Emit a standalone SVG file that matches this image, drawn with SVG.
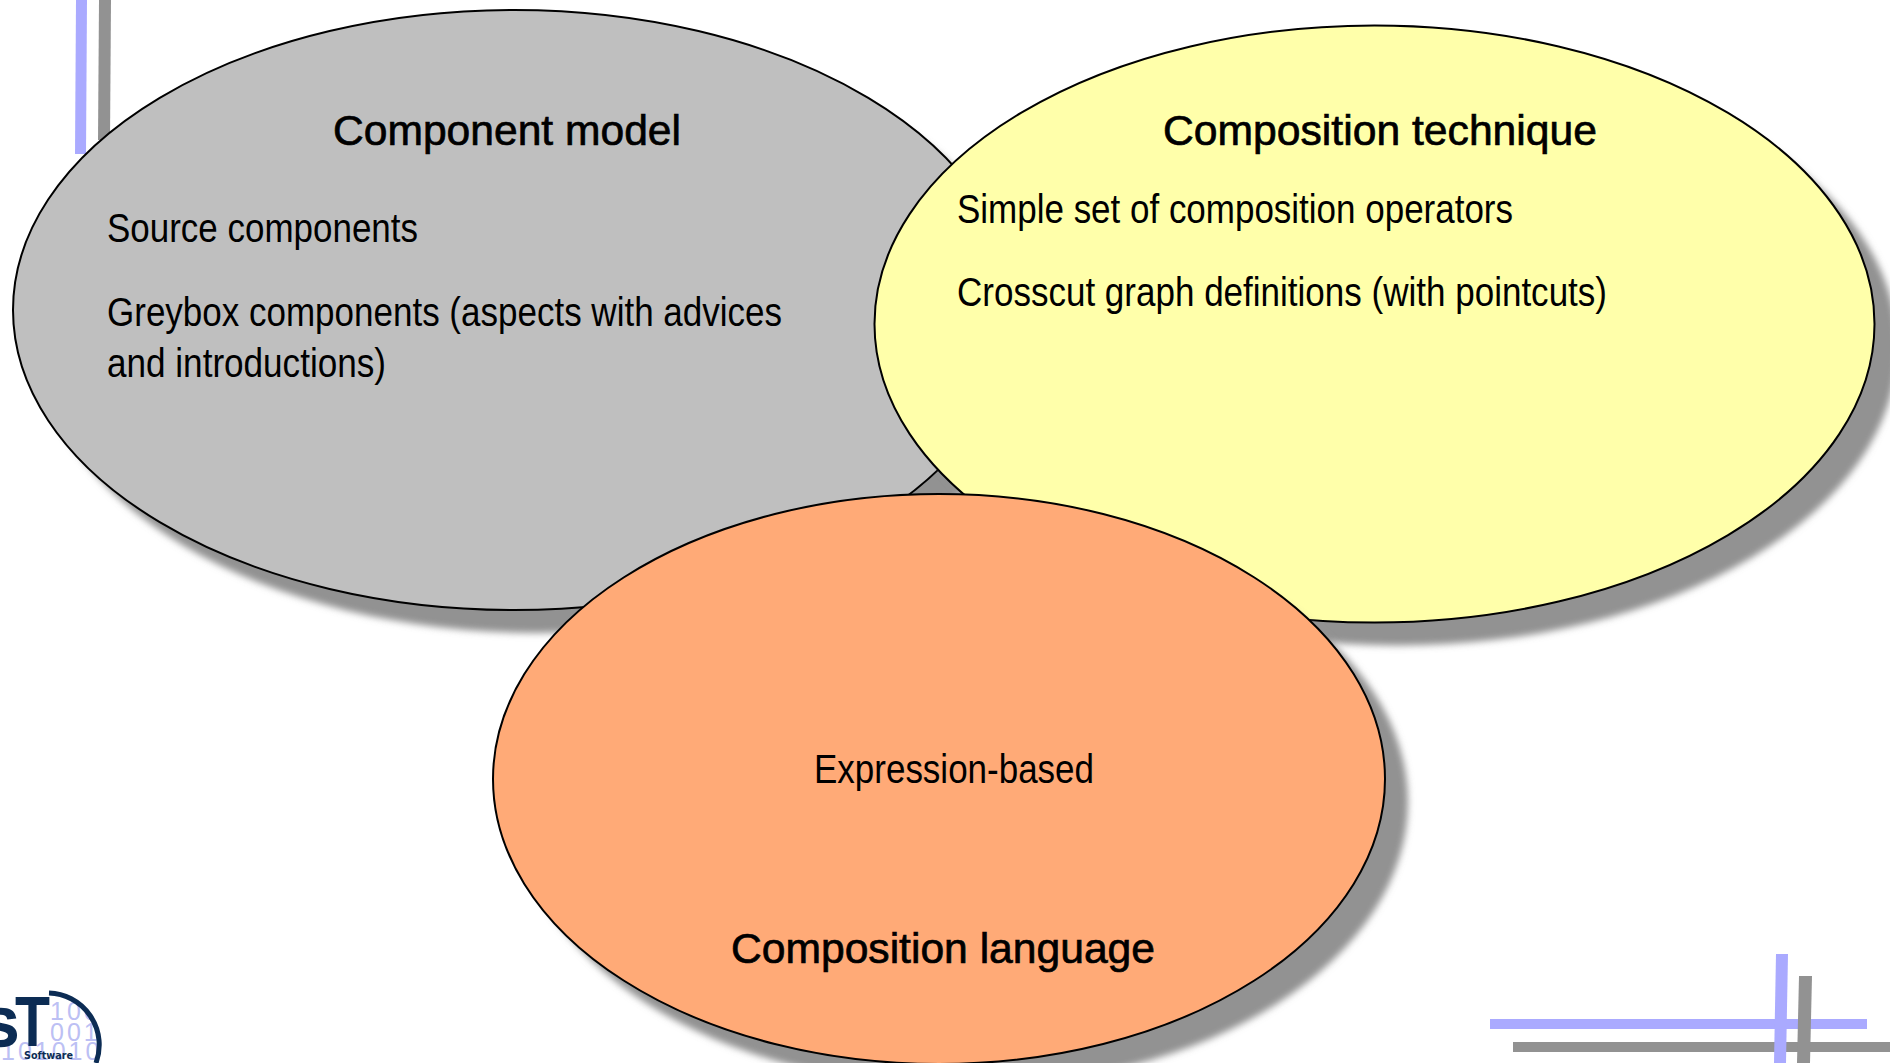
<svg xmlns="http://www.w3.org/2000/svg" width="1890" height="1063" viewBox="0 0 1890 1063">
<style>
.t{font-family:"Liberation Sans",Arial,sans-serif;font-size:41px;fill:#000}
.h{font-family:"Liberation Sans",Arial,sans-serif;font-size:43px;fill:#000;stroke:#000;stroke-width:.7px}
.e{stroke:#000;stroke-width:2}
.s{fill:#929292;filter:url(#b)}
.d{font-family:"Liberation Sans",Arial,sans-serif;font-size:25px;fill:#bcc0f4;letter-spacing:3px}
.n{fill:#0c2c54}
</style>
<defs>
<filter id="b" x="-5%" y="-5%" width="110%" height="110%"><feGaussianBlur stdDeviation="3.500"/></filter>
<clipPath id="c"><circle cx="49" cy="1045" r="50"/></clipPath>
</defs>
<rect width="1890" height="1063" fill="#fff"/>
<g id="deco">
<polygon points="76,0 87,0 86,154 75,154" fill="#aaf"/>
<polygon points="99,0 111,0 110,140 98,140" fill="#929292"/>
<rect x="1490" y="1019" width="377" height="10" fill="#aaf"/>
<rect x="1513" y="1042" width="377" height="10" fill="#929292"/>
<polygon points="1776,954 1788,954 1786,1063 1774,1063" fill="#aaf"/>
<polygon points="1799,976 1812,976 1810,1063 1797,1063" fill="#929292"/>
</g>
<g id="logo">
<g clip-path="url(#c)">
<text class="d" x="50" y="1020">100</text>
<text class="d" x="50" y="1041">001</text>
<text class="d" x="1" y="1060" letter-spacing="1.5">101010</text>
</g>
<path d="M49 993A52 52 0 0 1 96 1063" fill="none" stroke="#0c2c54" stroke-width="5"/>
<text class="n" x="15" y="1046" font-family="Liberation Sans,sans-serif" font-weight="bold" font-size="71" textLength="35" lengthAdjust="spacingAndGlyphs">T</text>
<text class="n" x="-17" y="1046" font-family="Liberation Sans,sans-serif" font-weight="bold" font-size="53" stroke="#0c2c54" stroke-width="1.500">S</text>
<text class="n" x="24" y="1059" font-family="DejaVu Sans,sans-serif" font-weight="bold" font-size="11" textLength="49" lengthAdjust="spacingAndGlyphs">Software</text>
</g>
<g id="component-model">
<ellipse class="s" cx="537" cy="333" rx="501" ry="300"/>
<ellipse class="e" cx="514" cy="310" rx="501" ry="300" fill="#bfbfbf"/>
<text class="h" x="507" y="145" text-anchor="middle" textLength="348" lengthAdjust="spacingAndGlyphs">Component model</text>
<text class="t" x="107" y="242" textLength="311" lengthAdjust="spacingAndGlyphs">Source components</text>
<text class="t" x="107" y="326" textLength="675" lengthAdjust="spacingAndGlyphs">Greybox components (aspects with advices</text>
<text class="t" x="107" y="377" textLength="279" lengthAdjust="spacingAndGlyphs">and introductions)</text>
</g>
<g id="composition-technique">
<ellipse class="s" cx="1397.500" cy="347" rx="500" ry="298.500"/>
<ellipse class="e" cx="1374.500" cy="324" rx="500" ry="298.500" fill="#ffffaa"/>
<text class="h" x="1380" y="145" text-anchor="middle" textLength="434" lengthAdjust="spacingAndGlyphs">Composition technique</text>
<text class="t" x="957" y="223" textLength="556" lengthAdjust="spacingAndGlyphs">Simple set of composition operators</text>
<text class="t" x="957" y="306" textLength="650" lengthAdjust="spacingAndGlyphs">Crosscut graph definitions (with pointcuts)</text>
</g>
<g id="composition-language">
<ellipse class="s" cx="962" cy="802" rx="446" ry="285"/>
<ellipse class="e" cx="939" cy="779" rx="446" ry="285" fill="#ffaa77"/>
<text class="t" x="814" y="783" textLength="280" lengthAdjust="spacingAndGlyphs">Expression-based</text>
<text class="h" x="943" y="963" text-anchor="middle" textLength="424" lengthAdjust="spacingAndGlyphs">Composition language</text>
</g>
</svg>
